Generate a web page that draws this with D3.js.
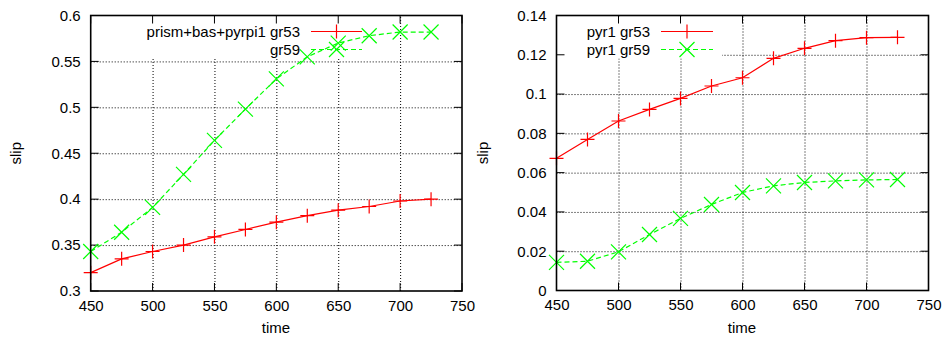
<!DOCTYPE html>
<html>
<head>
<meta charset="utf-8">
<script src="https://cdn.jsdelivr.net/npm/d3@7"></script>
<style>
  body { margin: 0; background: #fff; }
  svg { display: block; font-family: "Liberation Sans", Arial, sans-serif; }
  .tick text { font-size: 15px; fill: #000; }
  .grid line { stroke: #000; stroke-width: 1; stroke-dasharray: 1,2; }
  .grid path { display: none; }
</style>
</head>
<body>
<script>
(function(){

//data
var times = [450, 475, 500, 525, 550, 575, 600, 625, 650, 675, 700, 725];

var prismGr53 = [0.320, 0.335, 0.343, 0.350, 0.359, 0.367, 0.375, 0.382, 0.388, 0.392, 0.398, 0.400];
var prismGr59 = [0.343, 0.364, 0.391, 0.427, 0.464, 0.498, 0.531, 0.555, 0.570, 0.578, 0.582, 0.582];

var pyrGr53 = [0.0673, 0.0769, 0.0863, 0.0922, 0.0978, 0.1041, 0.1083, 0.1182, 0.1233, 0.1272, 0.1287, 0.1289];
var pyrGr59 = [0.0143, 0.0149, 0.0197, 0.0285, 0.0367, 0.0438, 0.0499, 0.0533, 0.0550, 0.0558, 0.0563, 0.0565];

var xTicks = [450, 500, 550, 600, 650, 700, 750];
var xTickLabels = ["450", "500", "550", "600", "650", "700", "750"];
var leftYTicks = [0.3, 0.35, 0.4, 0.45, 0.5, 0.55, 0.6];
var leftYTickLabels = ["0.3", "0.35", "0.4", "0.45", "0.5", "0.55", "0.6"];
var rightYTicks = [0, 0.02, 0.04, 0.06, 0.08, 0.1, 0.12, 0.14];
var rightYTickLabels = ["0", "0.02", "0.04", "0.06", "0.08", "0.1", "0.12", "0.14"];

var leftKeys = ["prism+bas+pyrpi1 gr53", "gr59"];
var rightKeys = ["pyr1 gr53", "pyr1 gr59"];

var width = 948, height = 341;

var svg = d3.select("body")
    .append("svg")
    .attr("width", width)
    .attr("height", height);

//left panel
drawPanel({
    x0: 90.7, x1: 462, y0: 15.5, y1: 291,
    yDomain: [0.3, 0.6], yTicks: leftYTicks, yLabels: leftYTickLabels,
    s53: prismGr53, s59: prismGr59, keys: leftKeys,
    keyBox: [128, 371], keyText: 300, slipX: 16, timeX: 276
});

//right panel
drawPanel({
    x0: 556.5, x1: 928.5, y0: 15.5, y1: 290.5,
    yDomain: [0, 0.14], yTicks: rightYTicks, yLabels: rightYTickLabels,
    s53: pyrGr53, s59: pyrGr59, keys: rightKeys,
    keyBox: [557, 722], keyText: 650, slipX: 483, timeX: 742
});

function drawPanel(o){
    var x = d3.scaleLinear().domain([450, 750]).range([o.x0, o.x1]);
    var y = d3.scaleLinear().domain(o.yDomain).range([o.y1, o.y0]);
    var g = svg.append("g");

    //grid lines
    g.append("g")
        .attr("class", "grid")
        .attr("transform", "translate(0," + o.y1 + ")")
        .call(d3.axisBottom(x).tickValues(xTicks.slice(1, -1)).tickSize(-(o.y1 - o.y0)).tickFormat(""));
    g.append("g")
        .attr("class", "grid")
        .attr("transform", "translate(" + o.x0 + ",0)")
        .call(d3.axisLeft(y).tickValues(o.yTicks.slice(1, -1)).tickSize(-(o.x1 - o.x0)).tickFormat(""));

    //gnuplot keeps the grid out of the key area
    g.append("rect")
        .attr("x", o.keyBox[0])
        .attr("y", o.y0 + 1)
        .attr("width", o.keyBox[1] - o.keyBox[0])
        .attr("height", 42)
        .attr("fill", "#fff");

    //tick marks, mirrored on all four sides
    var tk = 8;
    var ticks = g.append("g").attr("stroke", "#000").attr("stroke-width", 1);
    xTicks.forEach(function(t){
        ticks.append("line").attr("x1", x(t)).attr("x2", x(t)).attr("y1", o.y1).attr("y2", o.y1 - tk);
        ticks.append("line").attr("x1", x(t)).attr("x2", x(t)).attr("y1", o.y0).attr("y2", o.y0 + tk);
    });
    o.yTicks.forEach(function(t){
        ticks.append("line").attr("x1", o.x0).attr("x2", o.x0 + tk).attr("y1", y(t)).attr("y2", y(t));
        ticks.append("line").attr("x1", o.x1).attr("x2", o.x1 - tk).attr("y1", y(t)).attr("y2", y(t));
    });

    //tick labels through d3 axes
    var xAxis = g.append("g")
        .attr("transform", "translate(0," + o.y1 + ")")
        .call(d3.axisBottom(x).tickValues(xTicks).tickSize(0).tickPadding(9)
            .tickFormat(function(d, i){ return xTickLabels[i]; }));
    xAxis.select(".domain").remove();

    var yAxis = g.append("g")
        .attr("transform", "translate(" + o.x0 + ",0)")
        .call(d3.axisLeft(y).tickValues(o.yTicks).tickSize(0).tickPadding(10)
            .tickFormat(function(d, i){ return o.yLabels[i]; }));
    yAxis.select(".domain").remove();

    //axis titles
    g.append("text")
        .attr("x", o.timeX)
        .attr("y", 333)
        .attr("text-anchor", "middle")
        .style("font-size", "15px")
        .text("time");
    g.append("text")
        .attr("transform", "translate(" + (o.slipX + 5) + "," + ((o.y0 + o.y1) / 2) + ") rotate(-90)")
        .attr("text-anchor", "middle")
        .style("font-size", "15px")
        .text("slip");

    //series
    var line = d3.line()
        .x(function(d, i){ return x(times[i]); })
        .y(function(d){ return y(d); });

    g.append("path")
        .datum(o.s53)
        .attr("d", line)
        .attr("fill", "none")
        .attr("stroke", "#ff0000")
        .attr("stroke-width", 1.2);

    g.append("path")
        .datum(o.s59)
        .attr("d", line)
        .attr("fill", "none")
        .attr("stroke", "#00ff00")
        .attr("stroke-width", 1.2)
        .attr("stroke-dasharray", "5,3");

    var ps = 7;
    o.s53.forEach(function(v, i){
        plus(g, x(times[i]), y(v), ps);
    });
    o.s59.forEach(function(v, i){
        cross(g, x(times[i]), y(v), ps + 0.5);
    });

    //key
    var keyY = [o.y0 + 16, o.y0 + 34];
    var sx0 = o.keyText + 11, sx1 = o.keyBox[1] - 9;
    o.keys.forEach(function(k, i){
        g.append("text")
            .attr("x", o.keyText)
            .attr("y", keyY[i] + 5)
            .attr("text-anchor", "end")
            .style("font-size", "15px")
            .text(k);
    });
    g.append("line")
        .attr("x1", sx0).attr("x2", sx1).attr("y1", keyY[0]).attr("y2", keyY[0])
        .attr("stroke", "#ff0000").attr("stroke-width", 1.2);
    plus(g, (sx0 + sx1) / 2, keyY[0], ps);
    g.append("line")
        .attr("x1", sx0).attr("x2", sx1).attr("y1", keyY[1]).attr("y2", keyY[1])
        .attr("stroke", "#00ff00").attr("stroke-width", 1.2).attr("stroke-dasharray", "5,3");
    cross(g, (sx0 + sx1) / 2, keyY[1], ps + 0.5);

    //border on top
    g.append("rect")
        .attr("x", o.x0)
        .attr("y", o.y0)
        .attr("width", o.x1 - o.x0)
        .attr("height", o.y1 - o.y0)
        .attr("fill", "none")
        .attr("stroke", "#000")
        .attr("stroke-width", 1.6);
}

function plus(g, cx, cy, r){
    g.append("path")
        .attr("d", "M" + (cx - r) + "," + cy + "H" + (cx + r) + "M" + cx + "," + (cy - r) + "V" + (cy + r))
        .attr("stroke", "#ff0000")
        .attr("stroke-width", 1.2)
        .attr("fill", "none");
}

function cross(g, cx, cy, r){
    g.append("path")
        .attr("d", "M" + (cx - r) + "," + (cy - r) + "L" + (cx + r) + "," + (cy + r) +
            "M" + (cx - r) + "," + (cy + r) + "L" + (cx + r) + "," + (cy - r))
        .attr("stroke", "#00ff00")
        .attr("stroke-width", 1.2)
        .attr("fill", "none");
}

})();
</script>
</body>
</html>
